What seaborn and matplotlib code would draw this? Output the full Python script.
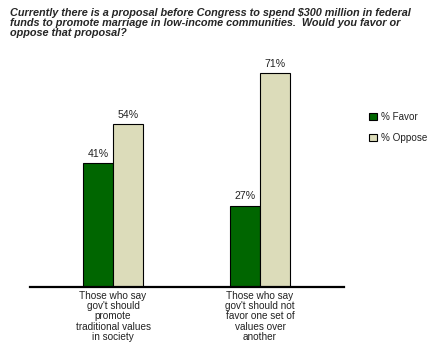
import matplotlib
matplotlib.use("Agg")
import matplotlib.pyplot as plt
import seaborn as sns
import pandas as pd

# Data
groups = ["Those who say\ngov't should\npromote\ntraditional values\nin society",
          "Those who say\ngov't should not\nfavor one set of\nvalues over\nanother"]
series = ["% Favor", "% Oppose"]
favor = [41, 27]
oppose = [54, 71]
colors = ["#006600", "#DCDCBA"]

title = ("Currently there is a proposal before Congress to spend $300 million in federal\n"
         "funds to promote marriage in low-income communities.  Would you favor or\n"
         "oppose that proposal?")

df = pd.DataFrame({
    "group": groups * 2,
    "series": [series[0]] * 2 + [series[1]] * 2,
    "value": favor + oppose,
})

sns.set_style("white")
plt.rcParams['font.family'] = ['Liberation Sans', 'DejaVu Sans']

fig = plt.figure(figsize=(4.4, 3.5), dpi=100)
ax = fig.add_axes([30 / 440, 1 - 287 / 350, 314 / 440, 226 / 350])

sns.barplot(data=df, x="group", y="value", hue="series", palette=colors,
            width=0.408, edgecolor="black", linewidth=0.8, saturation=1,
            ax=ax, legend=False)

ax.set_xlim(-0.565, 1.571)
ax.set_ylim(0, 75)

# value labels
for cont in ax.containers:
    ax.bar_label(cont, labels=[f"{v:.0f}%" for v in cont.datavalues],
                 padding=3, fontsize=7.6, color="#222222")

ax.set_yticks([])
ax.set_xlabel("")
ax.set_ylabel("")
ax.tick_params(axis="x", length=0, pad=3, labelsize=7.2, labelcolor="#222222")
for s in ["top", "right", "left"]:
    ax.spines[s].set_visible(False)
ax.spines["bottom"].set_linewidth(1.6)
ax.spines["bottom"].set_color("black")
for lbl in ax.get_xticklabels():
    lbl.set_linespacing(1.02)
    lbl.set_horizontalalignment("center")

# legend
handles = [plt.Rectangle((0, 0), 1, 1, facecolor=c, edgecolor="black", linewidth=0.8)
           for c in colors]
fig.legend(handles, series, loc="upper left", bbox_to_anchor=(360 / 440, 1 - 103 / 350),
           frameon=False, fontsize=7.1, handlelength=0.8, handleheight=0.8,
           handletextpad=0.4, labelspacing=1.1, labelcolor="#222222")

fig.text(10 / 440, 1 - 8 / 350, title, ha="left", va="top", fontsize=7.8,
         fontweight="bold", fontstyle="italic", linespacing=1.0)

fig.savefig("out.png", dpi=100)
